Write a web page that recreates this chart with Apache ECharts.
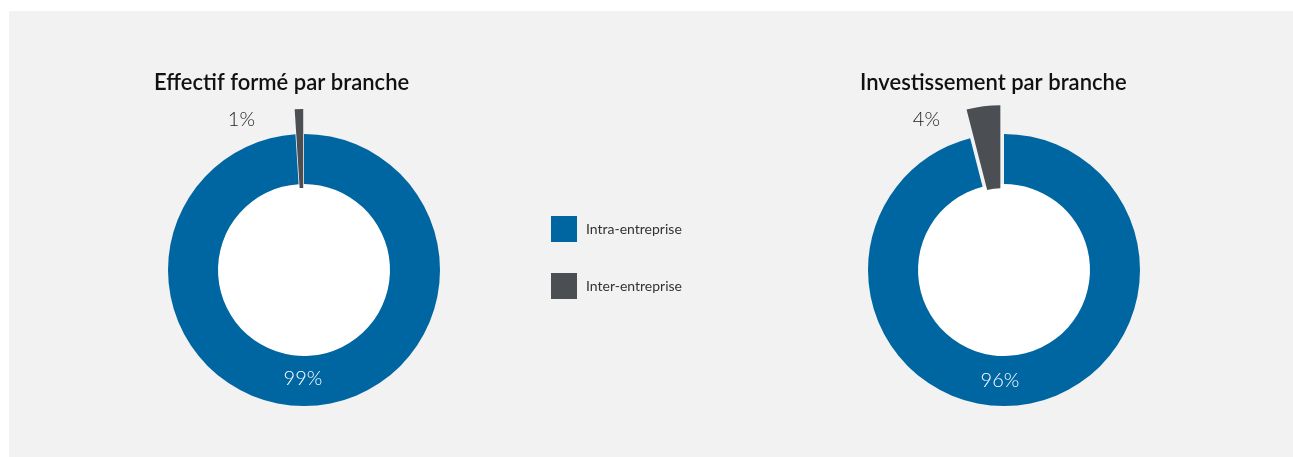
<!DOCTYPE html>
<html lang="fr">
<head>
<meta charset="utf-8">
<title>Formation par branche</title>
<script src="https://cdn.jsdelivr.net/npm/echarts@6/dist/echarts.min.js"></script>
<style>
  html, body { margin: 0; padding: 0; background: #ffffff; }
  #panel { position: absolute; left: 9px; top: 11px; right: 0; bottom: 0; background: #f2f2f2; }
  #chart { position: absolute; left: 0; top: 0; width: 1293px; height: 457px; }
</style>
</head>
<body>
<div id="panel"></div>
<div id="chart"></div>
<script>
// Categories and their share (%) in each donut
const categories = ['Intra-entreprise', 'Inter-entreprise'];
const chartTitles = ['Effectif formé par branche', 'Investissement par branche'];
const effectifShare = [99, 1];
const investissementShare = [96, 4];

const colors = ['#0066a2', '#4b4f54'];
const FONT = 'Lato, "Open Sans", sans-serif';
const NONE = 'rgba(0,0,0,0)';

// geometry of each donut
const donuts = [
  { values: effectifShare, title: chartTitles[0], cx: 304, cy: 270, titleX: 154,
    pop: 25, grayInner: 57, smallLabelX: -49, bigLabelDx: -1, bigLabelDy: 109 },
  { values: investissementShare, title: chartTitles[1], cx: 1004, cy: 270, titleX: 860,
    pop: 29, grayInner: 53, smallLabelX: -64, bigLabelDx: -4, bigLabelDy: 111 }
];
const R_OUT = 136, R_IN = 86;

function ring(d) {
  const base = {
    type: 'pie', center: [d.cx, d.cy], startAngle: 90, clockwise: true,
    avoidLabelOverlap: false, animation: false, emphasis: { disabled: true },
    labelLine: { show: false }, silent: true
  };
  const labelStyle = { fontFamily: FONT, fontSize: 20, fontWeight: 300 };
  // white hole
  const hole = Object.assign({}, base, {
    radius: [0, R_IN], z: 1,
    data: [{ value: 1, name: 'trou', itemStyle: { color: '#ffffff', borderWidth: 0 }, label: { show: false } }]
  });
  // main ring: the large share is drawn, both shares are labelled here
  const main = Object.assign({}, base, {
    radius: [R_IN, R_OUT], z: 2,
    data: d.values.map((v, i) => ({
      value: v, name: categories[i],
      itemStyle: { color: i === 0 ? colors[0] : NONE, borderWidth: 0 },
      label: Object.assign({
        show: true, position: i === 0 ? 'inside' : 'outside', formatter: '{c}%',
        color: i === 0 ? '#ffffff' : '#222222'
      }, labelStyle)
    })),
    labelLayout: (p) => p.dataIndex === 0
      ? { x: d.cx + d.bigLabelDx, y: d.cy + d.bigLabelDy, align: 'center', verticalAlign: 'middle' }
      : { x: d.cx + d.smallLabelX, y: d.cy - 150, align: 'right', verticalAlign: 'middle' }
  });
  // small share, pulled out of the ring
  const small = Object.assign({}, base, {
    radius: [d.grayInner, R_OUT], z: 3,
    selectedMode: 'single', selectedOffset: d.pop,
    select: { itemStyle: { color: colors[1] } },
    data: d.values.map((v, i) => ({
      value: v, name: categories[i], selected: i === 1,
      itemStyle: { color: i === 1 ? colors[1] : NONE, borderWidth: 0 },
      label: { show: false }
    }))
  });
  return [hole, main, small];
}

const chart = echarts.init(document.getElementById('chart'), null, { renderer: 'canvas' });
chart.setOption({
  backgroundColor: 'transparent',
  animation: false,
  title: donuts.map(d => ({
    text: d.title, left: d.titleX, top: 70, padding: 0,
    textStyle: { fontFamily: FONT, fontSize: 22, fontWeight: 600, color: '#111111', lineHeight: 26 }
  })),
  legend: {
    orient: 'vertical', left: 551, top: 216, padding: 0, itemWidth: 26, itemHeight: 26, itemGap: 31,
    icon: 'rect', selectedMode: false,
    data: categories.map((n, i) => ({ name: n, itemStyle: { color: colors[i] } })),
    textStyle: { fontFamily: FONT, fontSize: 14, color: '#333333', padding: [0, 0, 0, 4] }
  },
  series: donuts.flatMap(ring)
});
</script>
</body>
</html>
